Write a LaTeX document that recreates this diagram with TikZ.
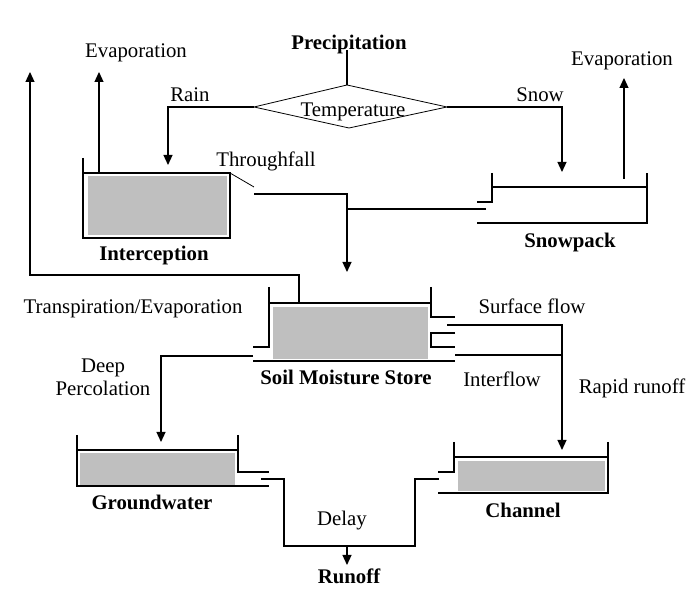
\documentclass[tikz,border=0pt]{standalone}
\usepackage{amssymb}
\usepackage{amsmath}
\usepackage{fontspec}
\setmainfont{Liberation Serif}
\usetikzlibrary{arrows.meta}

\begin{document}
\begin{tikzpicture} [x=0.5pt, y=-0.5pt, line width=0.6pt,
  every node/.style={font=\fontsize{10.4}{12}\selectfont, inner sep=0pt,
    text height=0.66em, text depth=0pt},
  lbl/.style={font=\fontsize{10.4}{12}\selectfont\bfseries},
  flow/.style={-{Triangle[length=5pt,width=4.5pt]}}]

\useasboundingbox (0,0) rectangle (698,597);

% tanks
\draw (83,158) -- (83,238) -- (230,238) -- (230,173) -- (83,173);
\fill [gray!50] (88,176) rectangle (227,235);

\draw (492,173) -- (492,202) -- (477,202);
\draw (477,223) -- (647,223) -- (647,173);
\draw (492,187) -- (647,187);

\draw (269,287) -- (269,347) -- (253,347);
\draw (269,303) -- (431,303);
\draw (431,287) -- (431,317) -- (455,317);
\draw (455,333) -- (431,333) -- (431,347) -- (455,347);
\draw (253,361) -- (455,361);
\fill [gray!50] (273,307) rectangle (428,359);

\draw (77,435) -- (77,486) -- (269,486);
\draw (77,450) -- (238,450);
\draw (238,435) -- (238,472) -- (269,472);
\fill [gray!50] (80,453) rectangle (235,485);

\draw (454,442) -- (454,472) -- (438,472);
\draw (454,457) -- (608,457);
\draw (608,442) -- (608,493) -- (438,493);
\fill [gray!50] (458,461) rectangle (605,491);

% temperature switch
\coordinate (tN) at (347,85);
\coordinate (tE) at (447,107);
\coordinate (tS) at (349,128);
\coordinate (tW) at (254,107);
\draw [line width=0.4pt] (tW) -- (tN) -- (tE) -- (tS) -- cycle;

% labels
\node (prec) at (349,43) [lbl] {Precipitation};
\node (temp) at (353,110) {Temperature};
\node (rain) at (190,95) {Rain};
\node (snow) at (540,95) {Snow};
\node (evl) at (136,51) {Evaporation};
\node (evr) at (622,59) {Evaporation};
\node (thr) at (266,160) {Throughfall};
\node (intc) at (154,254) [lbl] {Interception};
\node (snpk) at (570,241) [lbl] {Snowpack};
\node (trev) at (133,307) {Transpiration/Evaporation};
\node (surf) at (532,307) {Surface flow};
\node (deep) at (103,366) {Deep};
\node (perc) at (103,389) {Percolation};
\node (soil) at (346,378) [lbl] {Soil Moisture Store};
\node (intf) at (502,380) {Interflow};
\node (rapd) at (632,387) {Rapid runoff};
\node (gw) at (152,503) [lbl] {Groundwater};
\node (chan) at (523,511) [lbl] {Channel};
\node (dly) at (342,519) {Delay};
\node (roff) at (349,577) [lbl] {Runoff};

% connector ends
\coordinate (p0) at (347,50);
\coordinate (ra) at (168,165);
\coordinate (sa) at (562,172);
\coordinate (el0) at (99,173);
\coordinate (el1) at (99,72);
\coordinate (er0) at (624,179);
\coordinate (er1) at (624,78);
\coordinate (te0) at (299,303);
\coordinate (te1) at (30,275);
\coordinate (te2) at (30,72);
\coordinate (th0) at (230,173);
\coordinate (th1) at (254,187);
\coordinate (th2) at (254,194);
\coordinate (th3) at (347,272);
\coordinate (sm0) at (486,209);
\coordinate (sm1) at (347,209);
\coordinate (dp0) at (253,356);
\coordinate (dp1) at (161,442);
\coordinate (sf0) at (447,325);
\coordinate (sf1) at (562,450);
\coordinate (if0) at (455,355);
\coordinate (if1) at (562,355);
\coordinate (gw0) at (261,479);
\coordinate (gw1) at (284,546);
\coordinate (ch0) at (439,479);
\coordinate (ch1) at (415,546);
\coordinate (ro0) at (347,546);
\coordinate (ro1) at (347,565);

% flows
\draw (p0) -- (tN);
\draw [flow] (tW) -| (ra);
\draw [flow] (tE) -| (sa);
\draw [flow] (el0) -- (el1);
\draw [flow] (er0) -- (er1);
\draw [flow] (te0) |- (te1) -- (te2);
\draw [line width=0.4pt] (th0) -- (th1);
\draw [flow] (th2) -| (th3);
\draw (sm0) -- (sm1);
\draw [flow] (dp0) -| (dp1);
\draw [flow] (sf0) -| (sf1);
\draw (if0) -- (if1);
\draw (gw0) -| (gw1) -- (ch1) |- (ch0);
\draw [flow] (ro0) -- (ro1);

\end{tikzpicture}
\end{document}
